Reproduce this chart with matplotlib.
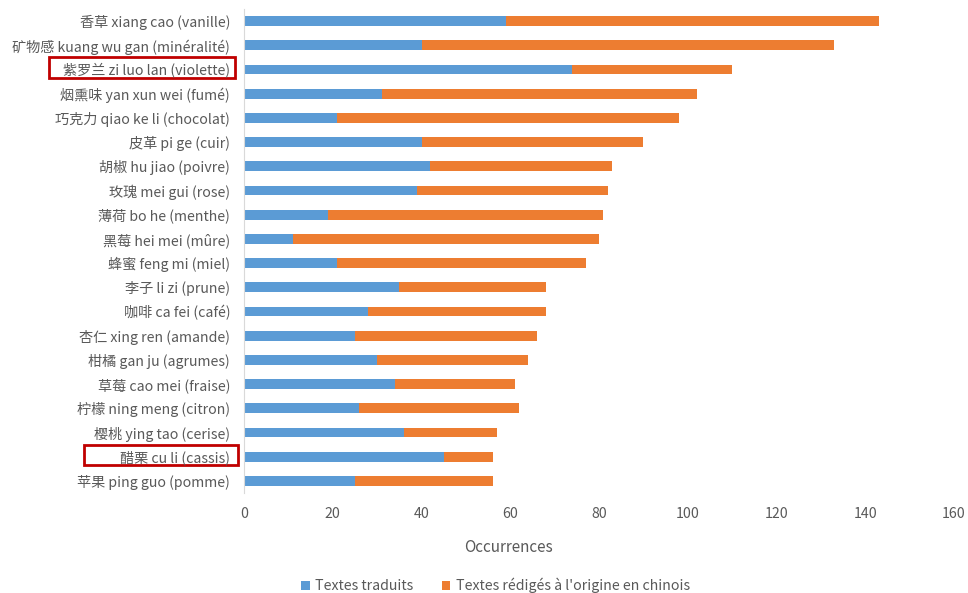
import matplotlib
matplotlib.use("Agg")
import matplotlib.pyplot as plt
import matplotlib.transforms as mtransforms
from matplotlib.patches import Rectangle
import numpy as np

plt.rcParams['font.family'] = ['Noto Sans CJK SC', 'DejaVu Sans']

# 数据（从上到下）
labels = [
    "香草 xiang cao (vanille)",
    "矿物感 kuang wu gan (minéralité)",
    "紫罗兰 zi luo lan (violette)",
    "烟熏味 yan xun wei (fumé)",
    "巧克力 qiao ke li (chocolat)",
    "皮革 pi ge (cuir)",
    "胡椒 hu jiao (poivre)",
    "玫瑰 mei gui (rose)",
    "薄荷 bo he (menthe)",
    "黑莓 hei mei (mûre)",
    "蜂蜜 feng mi (miel)",
    "李子 li zi (prune)",
    "咖啡 ca fei (café)",
    "杏仁 xing ren (amande)",
    "柑橘 gan ju (agrumes)",
    "草莓 cao mei (fraise)",
    "柠檬 ning meng (citron)",
    "樱桃 ying tao (cerise)",
    "醋栗 cu li (cassis)",
    "苹果 ping guo (pomme)",
]
traduits = [59, 40, 74, 31, 21, 40, 42, 39, 19, 11, 21, 35, 28, 25, 30, 34, 26, 36, 45, 25]
chinois = [84, 93, 36, 71, 77, 50, 41, 43, 62, 69, 56, 33, 40, 41, 34, 27, 36, 21, 11, 31]
highlighted = ["紫罗兰 zi luo lan (violette)", "醋栗 cu li (cassis)"]

BLUE = '#5B9BD5'
ORANGE = '#ED7D31'
TEXT = '#595959'

fig = plt.figure(figsize=(9.68, 5.93), dpi=100)
ax = fig.add_axes([244 / 968, 1 - 493 / 593, 710 / 968, 484 / 593])

y = np.arange(len(labels))[::-1]
ax.barh(y, traduits, height=0.4, color=BLUE, label='Textes traduits')
ax.barh(y, chinois, left=traduits, height=0.4, color=ORANGE,
        label="Textes rédigés à l'origine en chinois")

ax.set_xlim(0, 160)
ax.set_ylim(-0.5, len(labels) - 0.5)
ax.set_xticks(np.arange(0, 161, 20))
ax.set_yticks(y)
ax.set_yticklabels(labels)
ax.tick_params(axis='both', length=0, labelcolor=TEXT, labelsize=10.2)
ax.tick_params(axis='y', pad=10)
ax.tick_params(axis='x', pad=10)

for side in ['top', 'right', 'bottom']:
    ax.spines[side].set_visible(False)
ax.spines['left'].set_color('#D9D9D9')

ax.set_xlabel('Occurrences', color=TEXT, fontsize=11)
ax.xaxis.set_label_coords(0.373, -0.095)

# 红框标注
trans = mtransforms.blended_transform_factory(ax.transAxes, ax.transData)
boxes = {
    "紫罗兰 zi luo lan (violette)": (-0.2746, -0.0127),
    "醋栗 cu li (cassis)": (-0.2254, -0.0085),
}
for name in highlighted:
    x0, x1 = boxes[name]
    yc = y[labels.index(name)]
    ax.add_patch(Rectangle((x0, yc - 0.36), x1 - x0, 0.86, transform=trans,
                           fill=False, edgecolor='#C00000', linewidth=2,
                           clip_on=False))

fig.legend(loc='lower center', bbox_to_anchor=(0.512, -0.022), ncol=2,
           frameon=False, fontsize=10.2, labelcolor=TEXT, handlelength=0.6,
           handleheight=0.6, handletextpad=0.4, columnspacing=2.0)

fig.savefig('out.png', dpi=100)
